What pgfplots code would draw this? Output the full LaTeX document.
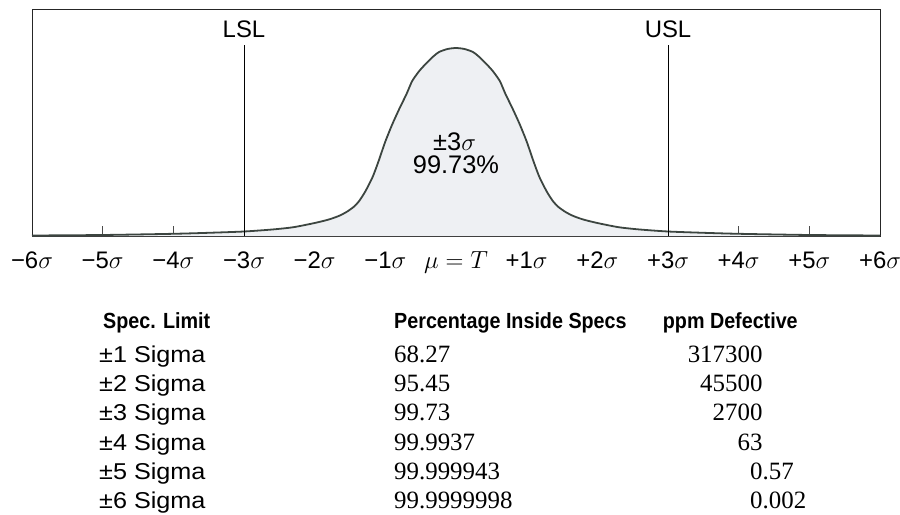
\documentclass[border=0pt]{standalone}
\usepackage{pgfplots}
\pgfplotsset{compat=1.18}
\usepackage{fontspec}
\setmainfont{Liberation Sans}
\newfontfamily\serifnum{Liberation Serif}
\newfontfamily\hdr[FakeStretch=0.9]{Liberation Sans}
\newfontfamily\rowfont[FakeStretch=1.1]{Liberation Sans}
\definecolor{curveline}{HTML}{3C4540}
\definecolor{curvefill}{HTML}{EEF0F3}
\pgfplotstableread{
x y
-6 0.5
-5 1
-4 2.2
-3.5 3.2
-3 4.5
-2.6 6.5
-2.3 8.8
-2 13
-1.8 16.5
-1.66 20
-1.55 24
-1.45 29
-1.37 35
-1.28 45
-1.18 59
-1.1 74
-1.0 94.5
-0.9 112
-0.8 127.5
-0.7 142
-0.62 155
-0.52 165
-0.43 172
-0.33 179
-0.24 184
-0.12 187
0 188
0.12 187
0.24 184
0.33 179
0.43 172
0.52 165
0.62 155
0.7 142
0.8 127.5
0.9 112
1.0 94.5
1.1 74
1.18 59
1.28 45
1.37 35
1.45 29
1.55 24
1.66 20
1.8 16.5
2 13
2.3 8.8
2.6 6.5
3 4.5
3.5 3.2
4 2.2
5 1
6 0.5
}\curvedata
\begin{document}
\begin{tikzpicture}
\path[use as bounding box] (-32bp,-279bp) rectangle (868bp,236bp);
\begin{axis}[
  scale only axis,
  width=848bp, height=227bp,
  xmin=-6, xmax=6, ymin=0, ymax=227,
  axis line style={line width=0.8bp, black!85},
  xtick={-6,-5,-4,-3,-2,-1,0,1,2,3,4,5,6},
  xticklabels={{−6$\sigma$},{−5$\sigma$},{−4$\sigma$},{−3$\sigma$},{−2$\sigma$},{−1$\sigma$},{$\mu = T$},{+1$\sigma$},{+2$\sigma$},{+3$\sigma$},{+4$\sigma$},{+5$\sigma$},{+6$\sigma$}},
  ytick=\empty,
  tick align=inside,
  xtick pos=bottom,
  major tick length=10bp,
  tick style={line width=0.6bp, black!70},
  xticklabel style={anchor=base, yshift=-32bp, inner sep=0pt, font=\fontsize{24}{27}\selectfont},
  clip=false,
]
\addplot[draw=none, fill=curvefill, smooth, tension=0.4] table[x=x,y=y] {\curvedata} \closedcycle;
\addplot[curveline, line width=1.8bp, smooth, tension=0.4] table[x=x,y=y] {\curvedata};
\addplot[black, line width=0.9bp] coordinates {(-3,0) (-3,191)};
\addplot[black, line width=0.9bp] coordinates {(3,0) (3,191)};
\node[anchor=base, inner sep=0pt, font=\fontsize{24}{27}\selectfont] at (axis cs:-3,199) {LSL};
\node[anchor=base, inner sep=0pt, font=\fontsize{24}{27}\selectfont] at (axis cs:3,199) {USL};
\node[anchor=base, inner sep=0pt, font=\fontsize{25.5}{29}\selectfont] at (axis cs:-0.02,86) {±3$\sigma$};
\node[anchor=base, inner sep=0pt, font=\fontsize{25.5}{29}\selectfont] at (axis cs:0,62.5) {99.73\%};
\end{axis}
\begin{scope}[every node/.style={inner sep=0pt, anchor=base west}]
\node[font=\hdr\bfseries\fontsize{22}{26}\selectfont] at (71bp,-92.3bp) {Spec. Limit};
\node[font=\hdr\bfseries\fontsize{22}{26}\selectfont] at (362bp,-92.3bp) {Percentage Inside Specs};
\node[font=\hdr\bfseries\fontsize{22}{26}\selectfont] at (630.7bp,-92.3bp) {ppm Defective};
\foreach \y/\s/\p in {-126.5/1/68.27, -155.7/2/95.45, -184.8/3/99.73, -214/4/99.9937, -243.2/5/99.999943, -272.3/6/99.9999998}{
  \node[font=\rowfont\fontsize{23}{27}\selectfont] at (67bp,\y bp) {±\s{} Sigma};
  \node[font=\serifnum\fontsize{25}{29}\selectfont] at (362bp,\y bp) {\p};
}
\node[anchor=base east, font=\serifnum\fontsize{25}{29}\selectfont] at (730.7bp,-126.5bp) {317300};
\node[anchor=base east, font=\serifnum\fontsize{25}{29}\selectfont] at (730.7bp,-155.7bp) {45500};
\node[anchor=base east, font=\serifnum\fontsize{25}{29}\selectfont] at (730.7bp,-184.8bp) {2700};
\node[anchor=base east, font=\serifnum\fontsize{25}{29}\selectfont] at (730.7bp,-214bp) {63};
\node[font=\serifnum\fontsize{25}{29}\selectfont] at (718bp,-243.2bp) {0.57};
\node[font=\serifnum\fontsize{25}{29}\selectfont] at (718bp,-272.3bp) {0.002};
\end{scope}
\end{tikzpicture}
\end{document}
